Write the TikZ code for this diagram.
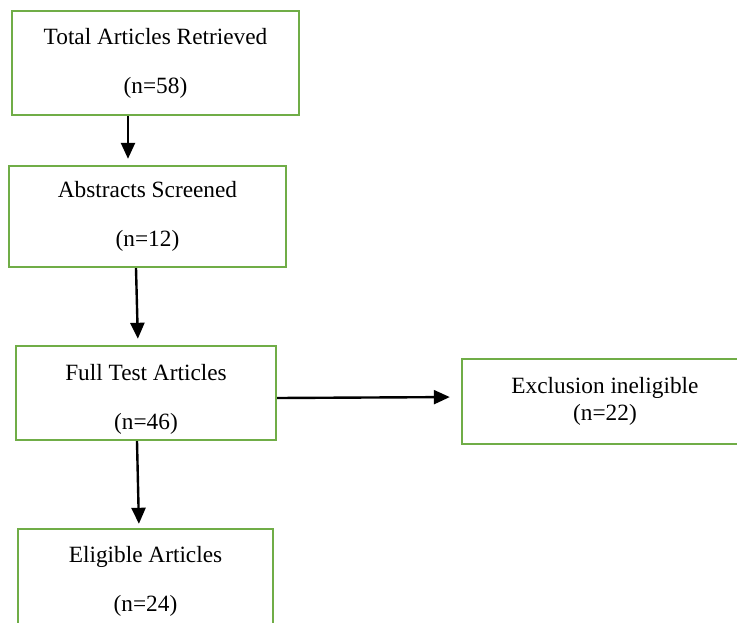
\documentclass[tikz,border=0pt]{standalone}
\usepackage{fontspec}
\setmainfont{Liberation Serif}
\usetikzlibrary{arrows.meta}
\definecolor{boxgreen}{RGB}{112,173,71}
\tikzset{
  boxtext/.style={align=center, inner sep=0pt, font=\fontsize{23.3}{49}\selectfont},
  box/.style={draw=boxgreen, line width=2.4pt, fill=white, boxtext},
  tightbox/.style={box, font=\fontsize{23.3}{27}\selectfont},
  arr/.style={draw=black, line width=2.4pt, -{Triangle[length=16pt,width=14pt]}}
}
\begin{document}
\begin{tikzpicture}[x=1pt,y=-1pt]
  \useasboundingbox (0,0) rectangle (737,622);
  \clip (0,0) rectangle (737,622);
  \fill[white] (0,0) rectangle (737,622);

  \node[box, minimum width=287pt, minimum height=104pt] (b1) at (155.5,63)
    {Total Articles Retrieved\\(n=58)};
  \node[box, minimum width=277pt, minimum height=101pt] (b2) at (147.5,216.5)
    {Abstracts Screened\\(n=12)};
  \node[box, minimum width=260pt, minimum height=94pt,
    label={[boxtext, yshift=-6pt]center:Full Test Articles\\(n=46)}] (b3) at (146,393) {};
  \node[tightbox, minimum width=286pt, minimum height=85pt] (b4) at (605,401.5)
    {Exclusion ineligible\\(n=22)};
  \node[box, minimum width=255pt, minimum height=100pt,
    label={[boxtext, yshift=-2.5pt]center:Eligible Articles\\(n=24)}] (b5) at (145.5,579) {};

  \draw[arr, shorten >=6pt] ([xshift=-27.5pt]b1.south) -- ([xshift=-19.5pt]b2.north);
  \draw[arr, shorten >=6pt] ([xshift=-11.5pt]b2.south) -- ([xshift=-8pt]b3.north);
  \draw[arr, shorten >=4pt] ([xshift=-9pt]b3.south) -- ([xshift=-6.5pt]b5.north);
  \draw[arr, shorten >=11pt] ([yshift=-5pt]b3.east) -- ([yshift=4.5pt]b4.west);
\end{tikzpicture}
\end{document}
